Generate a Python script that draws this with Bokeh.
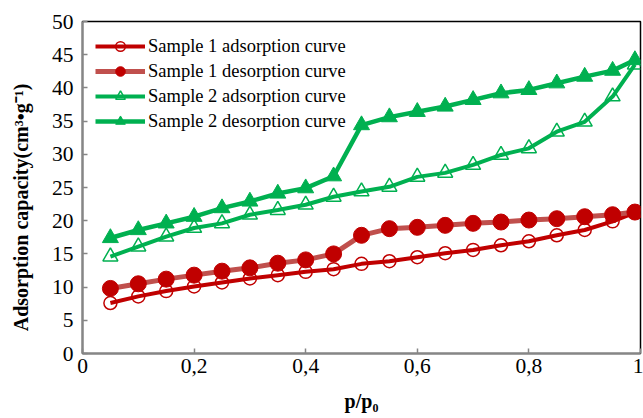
from bokeh.plotting import figure
from bokeh.models import Range1d, Legend, LegendItem, CustomJSTickFormatter
from bokeh.embed import file_html
from bokeh.resources import INLINE

# Relative pressure p/p0
p_rel = [0.05, 0.10, 0.15, 0.20, 0.25, 0.30, 0.35, 0.40, 0.45, 0.50,
         0.55, 0.60, 0.65, 0.70, 0.75, 0.80, 0.85, 0.90, 0.95, 0.99]

# Adsorbed volume, cm3/g
s1_ads = [7.6, 8.6, 9.4, 10.1, 10.7, 11.3, 11.8, 12.3, 12.7, 13.5,
          13.9, 14.5, 15.1, 15.6, 16.3, 16.9, 17.8, 18.6, 19.9, 21.2]
s1_des = [9.8, 10.5, 11.2, 11.8, 12.4, 12.9, 13.6, 14.1, 15.0, 17.8,
          18.8, 19.0, 19.3, 19.6, 19.8, 20.1, 20.3, 20.6, 20.9, 21.3]
s2_ads = [14.6, 16.1, 17.6, 18.9, 19.6, 20.9, 21.6, 22.4, 23.6, 24.4,
          25.1, 26.6, 27.2, 28.4, 29.9, 30.9, 33.4, 34.9, 38.7, 43.5]
s2_des = [17.4, 18.6, 19.6, 20.6, 21.9, 22.9, 24.1, 24.9, 26.7, 34.4,
          35.6, 36.4, 37.2, 38.2, 39.2, 39.7, 40.7, 41.7, 42.6, 44.2]

labels = ["Sample 1 adsorption curve", "Sample 1 desorption curve",
          "Sample 2 adsorption curve", "Sample 2 desorption curve"]

FONT = "Liberation Serif"
RED = "#C00000"
RED_LIGHT = "#C0504D"
GREEN = "#00B050"
AXIS_GRAY = "#868686"

p = figure(width=643, height=418, output_backend="svg", toolbar_location=None,
           x_range=Range1d(0, 1), y_range=Range1d(0, 50),
           min_border_left=82, min_border_right=3, min_border_top=21,
           min_border_bottom=65)
p.outline_line_color = "black"
p.outline_line_width = 1.5
p.xgrid.visible = False
p.ygrid.visible = False

for ax in (p.xaxis[0], p.yaxis[0]):
    ax.axis_line_color = AXIS_GRAY
    ax.axis_line_width = 2
    ax.major_tick_line_color = AXIS_GRAY
    ax.major_tick_line_width = 1.5
    ax.major_tick_in = 5
    ax.major_tick_out = 0
    ax.minor_tick_line_color = None
    ax.major_label_text_font = FONT
    ax.major_label_text_font_size = "21.5px"
    ax.major_label_text_color = "black"
    ax.axis_label_text_font = FONT
    ax.axis_label_text_font_style = "bold"
    ax.axis_label_text_font_size = "20px"
    ax.axis_label_text_color = "black"

p.xaxis.ticker = [0, 0.2, 0.4, 0.6, 0.8, 1.0]
p.xaxis.formatter = CustomJSTickFormatter(
    code="return (Math.round(tick*10)/10).toString().replace('.', ',');")
p.xaxis.major_label_standoff = 5
p.xaxis.axis_label = "p/p₀"
p.xaxis.axis_label_standoff = 14

p.yaxis.ticker = list(range(0, 51, 5))
p.yaxis.major_label_standoff = 9
# trailing no-break spaces push the centred title a little toward the bottom
p.yaxis.axis_label = "Adsorption capacity(cm³•g⁻¹)" + "\u00a0" * 8
p.yaxis.axis_label_standoff = 17

# Sample 1
l1 = p.line(p_rel, s1_ads, line_color=RED, line_width=4)
m1 = p.scatter(p_rel, s1_ads, marker="circle", size=13, fill_color="white",
               fill_alpha=0, line_color=RED, line_width=1.5)
l2 = p.line(p_rel, s1_des, line_color=RED_LIGHT, line_width=5)
m2 = p.scatter(p_rel, s1_des, marker="circle", size=16, fill_color=RED,
               line_color=RED, line_width=1)

# Sample 2
l3 = p.line(p_rel, s2_ads, line_color=GREEN, line_width=4)
m3 = p.scatter(p_rel, s2_ads, marker="triangle", size=15, fill_color="white",
               fill_alpha=0, line_color=GREEN, line_width=1.5)
l4 = p.line(p_rel, s2_des, line_color=GREEN, line_width=4.5)
m4 = p.scatter(p_rel, s2_des, marker="triangle", size=16, fill_color=GREEN,
               line_color=GREEN, line_width=1)

legend = Legend(items=[
    LegendItem(label=labels[0], renderers=[l1, m1]),
    LegendItem(label=labels[1], renderers=[l2, m2]),
    LegendItem(label=labels[2], renderers=[l3, m3]),
    LegendItem(label=labels[3], renderers=[l4, m4]),
], location="top_left")
legend.label_text_font = FONT
legend.label_text_font_size = "18.5px"
legend.label_text_color = "black"
legend.glyph_width = 50
legend.glyph_height = 24
legend.label_height = 24
legend.spacing = 1
legend.label_standoff = 3
legend.padding = 4
legend.margin = 13
legend.border_line_color = None
legend.background_fill_alpha = 0
p.add_layout(legend)

open("out.html", "w").write(file_html(p, INLINE))
